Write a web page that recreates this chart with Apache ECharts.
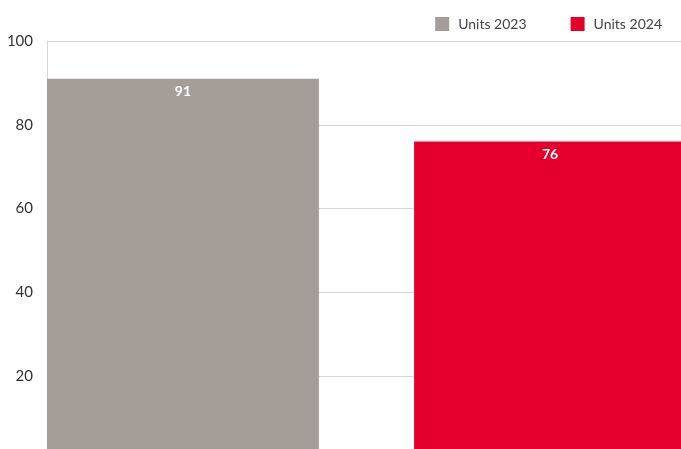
<!DOCTYPE html>
<html>
<head>
<meta charset="utf-8">
<title>Units</title>
<script src="https://cdn.jsdelivr.net/npm/echarts@6/dist/echarts.min.js"></script>
<style>
  html, body { margin: 0; padding: 0; background: #fff; }
  #chart { width: 681px; height: 449px; }
</style>
</head>
<body>
<div id="chart"></div>
<script>
    // data
    let categorias = [''];
    let nombres = ['Units 2023', 'Units 2024'];
    let units2023 = [91];
    let units2024 = [76];
    let colores = ['#a59e98', '#e5002b'];

    let chart = echarts.init(document.getElementById('chart'));

    let etiqueta = {
        show: true,
        position: 'insideTop',
        distance: 6,
        color: '#fff',
        fontFamily: 'Lato',
        fontWeight: 'bold',
        fontSize: 14
    };

    let option = {
        animation: false,
        color: colores,
        legend: {
            right: 14,
            top: 12,
            itemWidth: 14,
            itemHeight: 14,
            itemGap: 44,
            icon: 'rect',
            textStyle: {
                fontFamily: 'Lato',
                fontSize: 14,
                color: '#444',
                padding: [0, 0, 0, 4]
            },
            data: nombres
        },
        grid: {
            left: 47,
            top: 41,
            width: 639,
            height: 419,
            containLabel: false,
            outerBoundsMode: 'none'
        },
        xAxis: {
            type: 'category',
            data: categorias,
            axisLine: { show: false },
            axisTick: { show: false },
            axisLabel: { show: false }
        },
        yAxis: {
            type: 'value',
            min: 0,
            max: 100,
            interval: 20,
            axisLine: { show: true, lineStyle: { color: '#d6d6d6' } },
            axisTick: { show: false },
            axisLabel: {
                fontFamily: 'Lato',
                fontSize: 15,
                color: '#333',
                margin: 14
            },
            splitLine: { lineStyle: { color: '#d6d6d6' } }
        },
        series: [
            {
                name: nombres[0],
                type: 'bar',
                data: units2023,
                barGap: '35%',
                barCategoryGap: '0%',
                label: etiqueta
            },
            {
                name: nombres[1],
                type: 'bar',
                data: units2024,
                label: etiqueta
            }
        ]
    };

    chart.setOption(option);
</script>
</body>
</html>
